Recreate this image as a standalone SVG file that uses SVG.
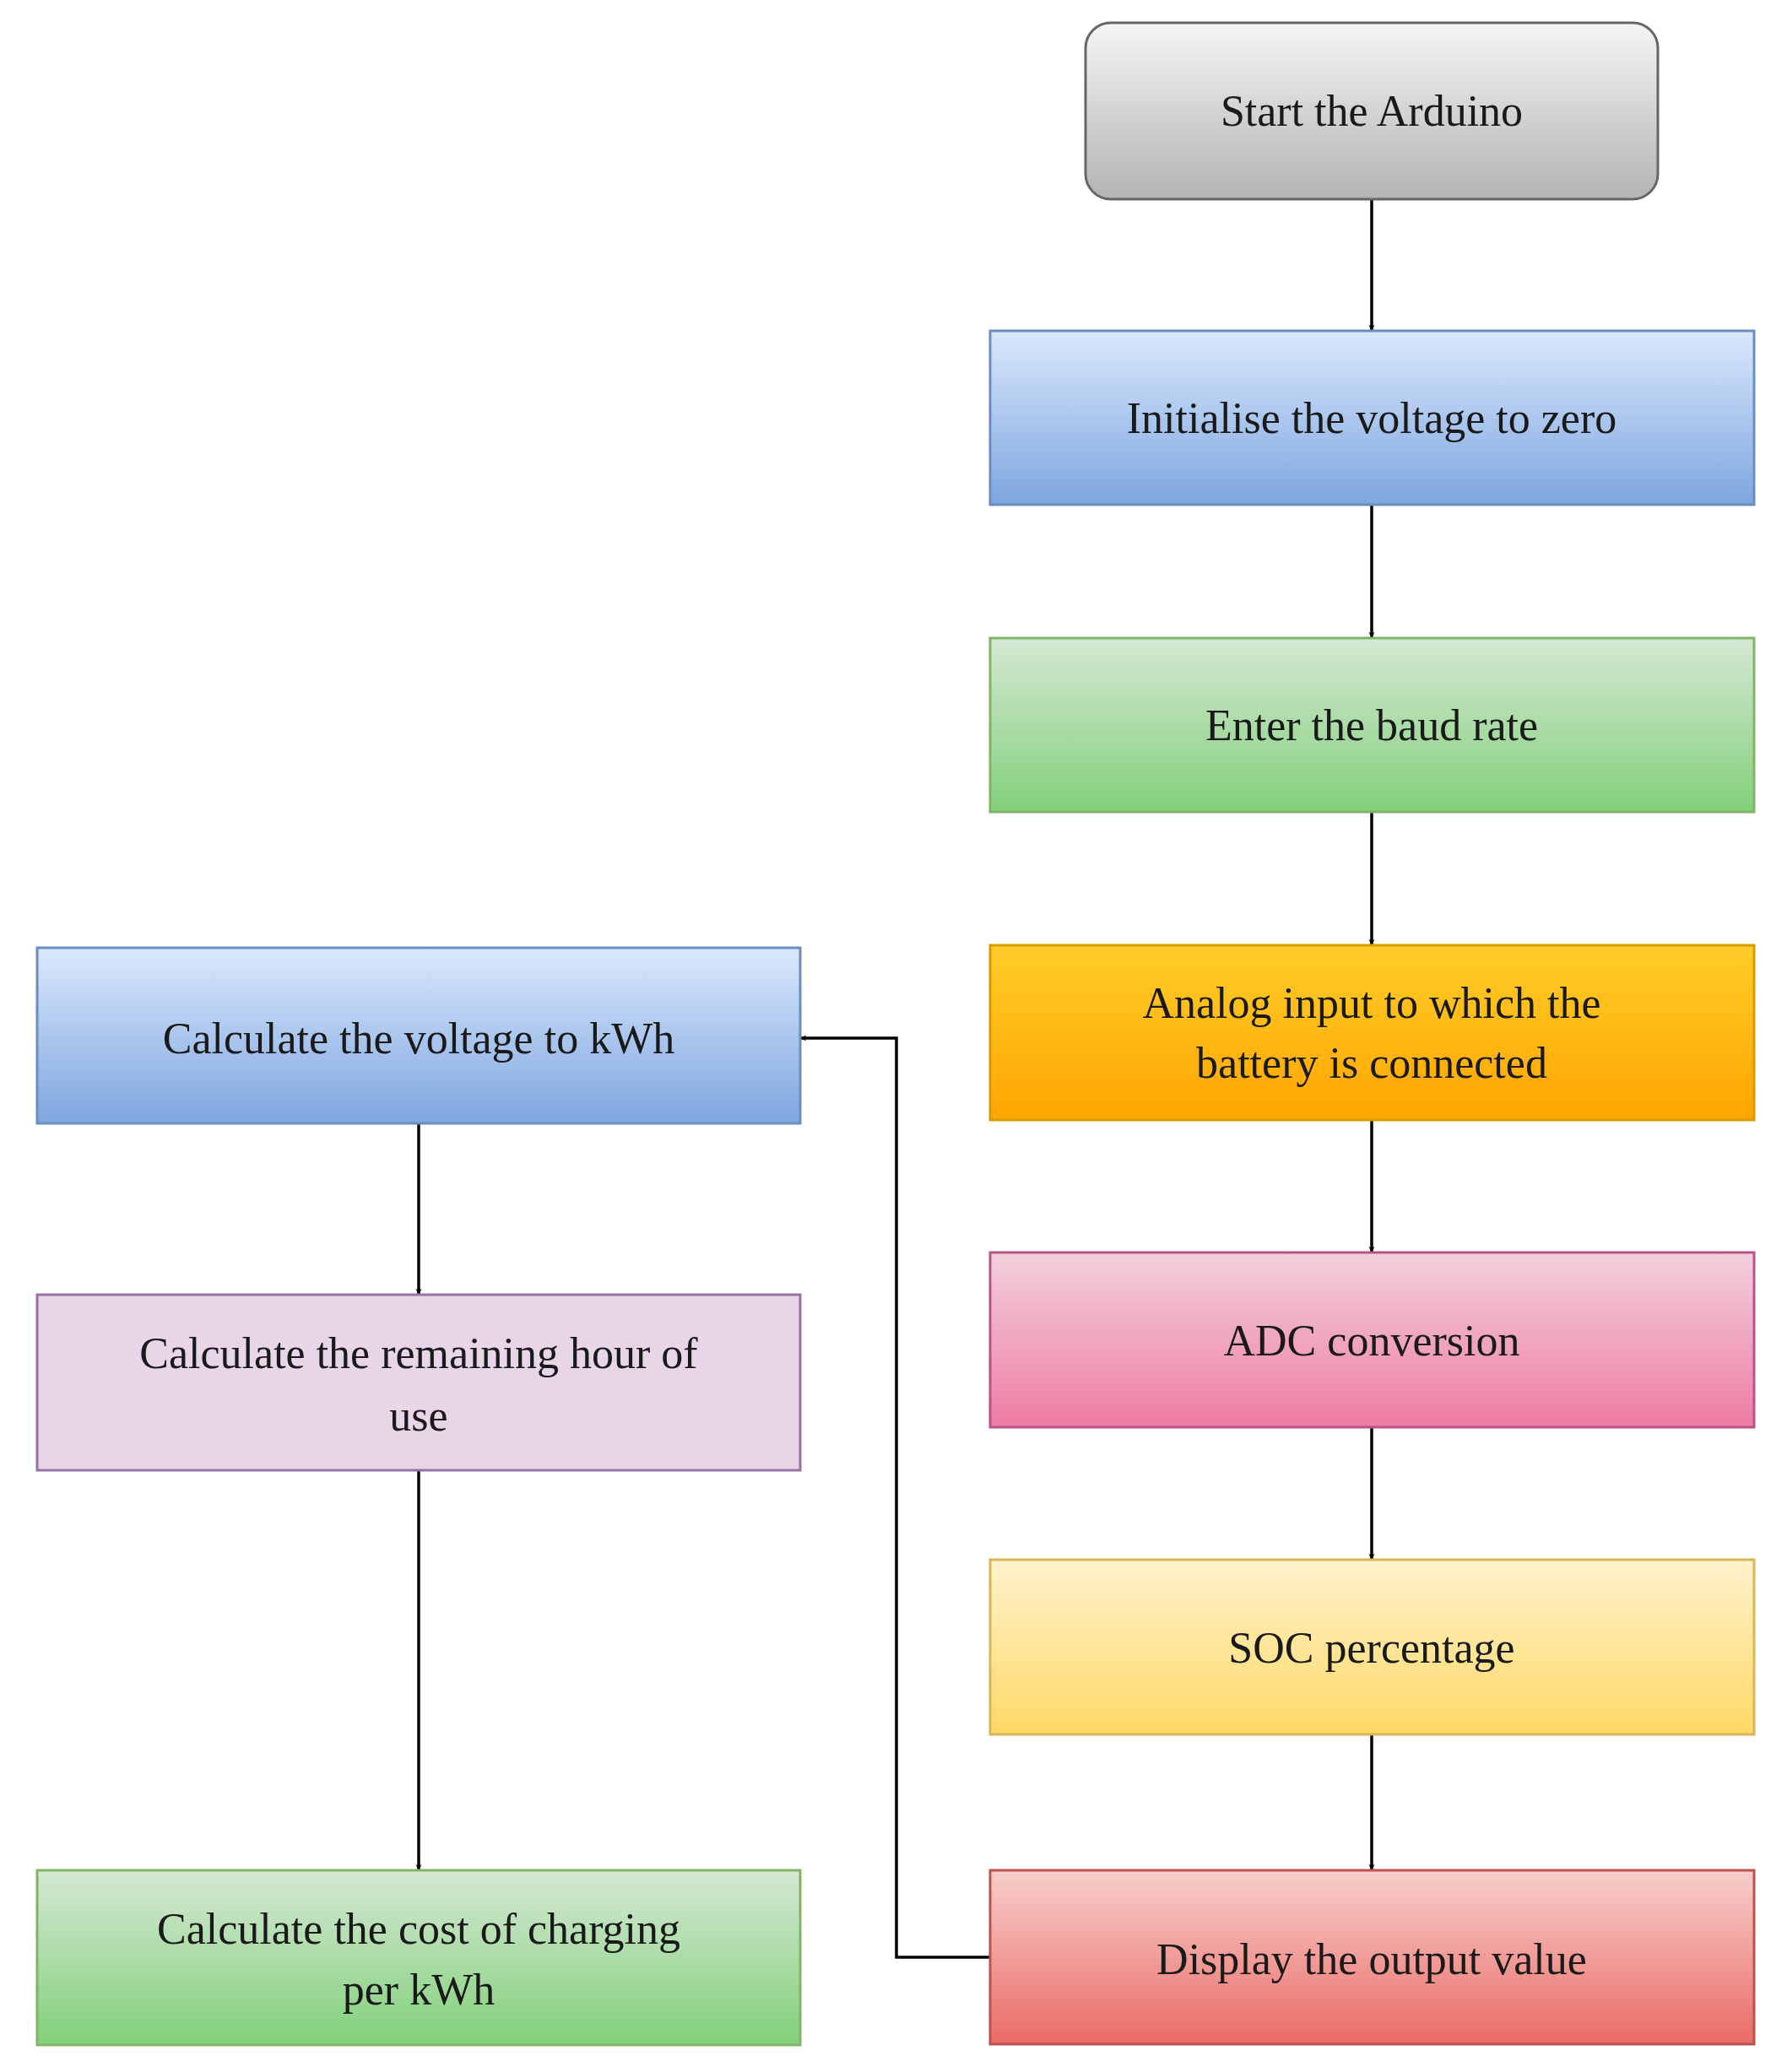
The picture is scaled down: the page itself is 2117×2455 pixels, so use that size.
<svg xmlns="http://www.w3.org/2000/svg" width="2117" height="2455" viewBox="0 0 2117 2455">
<defs>
<linearGradient id="gGray" x1="0" y1="0" x2="0" y2="1"><stop offset="0" stop-color="#f5f5f5"/><stop offset="1" stop-color="#b3b3b3"/></linearGradient>
<linearGradient id="gBlue" x1="0" y1="0" x2="0" y2="1"><stop offset="0" stop-color="#dae8fc"/><stop offset="1" stop-color="#7ea6e0"/></linearGradient>
<linearGradient id="gGreen" x1="0" y1="0" x2="0" y2="1"><stop offset="0" stop-color="#d5e8d4"/><stop offset="1" stop-color="#82d07a"/></linearGradient>
<linearGradient id="gOrange" x1="0" y1="0" x2="0" y2="1"><stop offset="0" stop-color="#ffcd28"/><stop offset="1" stop-color="#ffa500"/></linearGradient>
<linearGradient id="gPink" x1="0" y1="0" x2="0" y2="1"><stop offset="0" stop-color="#f2d0de"/><stop offset="1" stop-color="#ee7ba3"/></linearGradient>
<linearGradient id="gYellow" x1="0" y1="0" x2="0" y2="1"><stop offset="0" stop-color="#fff2cc"/><stop offset="1" stop-color="#ffd966"/></linearGradient>
<linearGradient id="gRed" x1="0" y1="0" x2="0" y2="1"><stop offset="0" stop-color="#f8cecc"/><stop offset="1" stop-color="#ea6b66"/></linearGradient>
<marker id="arr" viewBox="0 0 10 10" refX="10" refY="5" markerWidth="7" markerHeight="7" orient="auto" markerUnits="userSpaceOnUse" style="overflow:visible">
<path d="M0,0 L10,5 L0,10 L3,5 Z" fill="#000"/></marker>
</defs>
<style>
text{font-family:"Liberation Serif","Times New Roman",serif;font-size:52px;fill:#1a1a1a;text-anchor:middle;dominant-baseline:central}
.c{fill:none;stroke:#000;stroke-width:3.5}
rect{stroke-width:3}
</style>
<rect width="2117" height="2455" fill="#fff"/>
<g id="connectors">
<path class="c" d="M1625 236 V392" marker-end="url(#arr)"/>
<path class="c" d="M1625 598 V756" marker-end="url(#arr)"/>
<path class="c" d="M1625 962 V1120" marker-end="url(#arr)"/>
<path class="c" d="M1625 1327 V1484" marker-end="url(#arr)"/>
<path class="c" d="M1625 1691 V1848" marker-end="url(#arr)"/>
<path class="c" d="M1625 2055 V2216" marker-end="url(#arr)"/>
<path class="c" d="M1173 2319 H1062 V1230 H948" marker-end="url(#arr)"/>
<path class="c" d="M496 1331 V1534" marker-end="url(#arr)"/>
<path class="c" d="M496 1742 V2216" marker-end="url(#arr)"/>
</g>
<defs><style>marker path{}</style></defs>
<g id="start"><rect x="1286" y="27" width="678" height="209" rx="30" fill="url(#gGray)" stroke="#666"/><text x="1625" y="131">Start the Arduino</text></g>
<g id="init"><rect x="1173" y="392" width="905" height="206" fill="url(#gBlue)" stroke="#6c8ebf"/><text x="1625" y="495">Initialise the voltage to zero</text></g>
<g id="baud"><rect x="1173" y="756" width="905" height="206" fill="url(#gGreen)" stroke="#82b366"/><text x="1625" y="859">Enter the baud rate</text></g>
<g id="analog"><rect x="1173" y="1120" width="905" height="207" fill="url(#gOrange)" stroke="#d79b00"/><text x="1625" y="1188">Analog input to which the</text><text x="1625" y="1259">battery is connected</text></g>
<g id="adc"><rect x="1173" y="1484" width="905" height="207" fill="url(#gPink)" stroke="#b85485"/><text x="1625" y="1588">ADC conversion</text></g>
<g id="soc"><rect x="1173" y="1848" width="905" height="207" fill="url(#gYellow)" stroke="#d6b656"/><text x="1625" y="1952">SOC percentage</text></g>
<g id="display"><rect x="1173" y="2216" width="905" height="206" fill="url(#gRed)" stroke="#b85450"/><text x="1625" y="2321">Display the output value</text></g>
<g id="kwh"><rect x="44" y="1123" width="904" height="208" fill="url(#gBlue)" stroke="#6c8ebf"/><text x="496" y="1230">Calculate the voltage to kWh</text></g>
<g id="hours"><rect x="44" y="1534" width="904" height="208" fill="#e8d5e8" stroke="#9673a6"/><text x="496" y="1603">Calculate the remaining hour of</text><text x="496" y="1677">use</text></g>
<g id="cost"><rect x="44" y="2216" width="904" height="207" fill="url(#gGreen)" stroke="#82b366"/><text x="496" y="2285">Calculate the cost of charging</text><text x="496" y="2357">per kWh</text></g>
</svg>
